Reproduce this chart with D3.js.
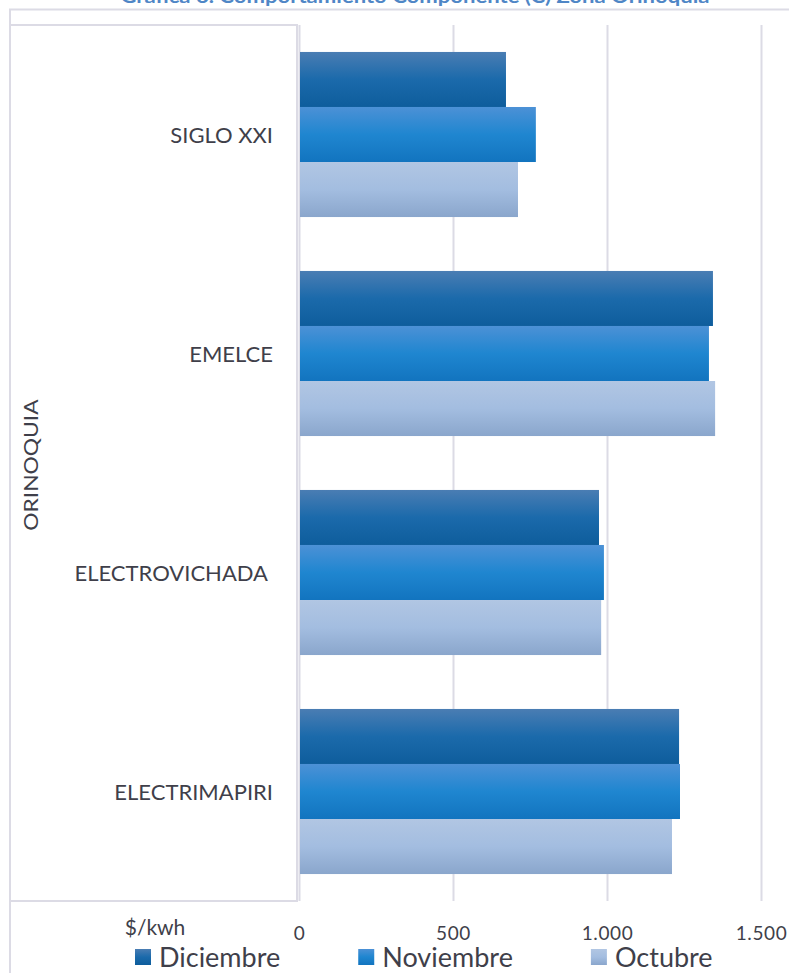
<!DOCTYPE html>
<html>
<head>
<meta charset="utf-8">
<script src="https://cdn.jsdelivr.net/npm/d3@7"></script>
<style>
  html, body { margin: 0; padding: 0; background: #ffffff; }
  svg { display: block; }
</style>
</head>
<body>
<svg id="chart" width="789" height="973"></svg>
<script>
// ---------- DATA ----------
const titleText = "Gráfica  6. Comportamiento Componente (C) Zona Orinoquia";
const groupLabel = "ORINOQUIA";
const unitLabel = "$/kwh";
const categories = ["SIGLO XXI", "EMELCE", "ELECTROVICHADA", "ELECTRIMAPIRI"];
const seriesNames = ["Diciembre", "Noviembre", "Octubre"];
const diciembre = [672, 1344, 974, 1234];
const noviembre = [769, 1331, 990, 1237];
const octubre   = [711, 1351, 981, 1211];
const xTicks = [0, 500, 1000, 1500];

// ---------- STYLE ----------
const seriesValues = [diciembre, noviembre, octubre];
const gradStops = [
  ["#4a7db3", "#1b6aab", "#0e5d9c"],
  ["#4c91d6", "#1f86d0", "#1274bf"],
  ["#b1c6e3", "#a3bde0", "#8aa6cc"]
];
const gridColor = "#dcdbe5";
const textColor = "#3f3f4a";
const font = "Lato, 'Open Sans', sans-serif";

const svg = d3.select("#chart");
const defs = svg.append("defs");
gradStops.forEach((stops, i) => {
  const g = defs.append("linearGradient")
    .attr("id", "grad" + i).attr("x1", 0).attr("y1", 0).attr("x2", 0).attr("y2", 1);
  g.append("stop").attr("offset", "0%").attr("stop-color", stops[0]);
  g.append("stop").attr("offset", "50%").attr("stop-color", stops[1]);
  g.append("stop").attr("offset", "100%").attr("stop-color", stops[2]);
});

const plot = { left: 299, right: 761, top: 25, bottom: 901 };

const x = d3.scaleLinear().domain([0, 1500]).range([plot.left, plot.right]);
const y0 = d3.scaleBand().domain(categories).range([plot.top, plot.bottom]).padding(0);
const y1 = d3.scaleBand().domain(seriesNames).range([0, y0.bandwidth()])
  .paddingInner(0).paddingOuter(0.49);

const locale = d3.formatLocale({ decimal: ",", thousands: ".", grouping: [3], currency: ["$", ""] });
const fmt = locale.format(",");

// Title (clipped at top, as in the reference)
svg.append("text")
  .attr("x", 415).attr("y", 3)
  .attr("text-anchor", "middle")
  .attr("font-family", font).attr("font-weight", "bold")
  .attr("font-size", 18).attr("fill", "#4f86c6")
  .attr("textLength", 589).attr("lengthAdjust", "spacingAndGlyphs")
  .text(titleText);

// Outer frame
svg.append("path")
  .attr("d", `M10,973 V9.5 H789`)
  .attr("fill", "none").attr("stroke", gridColor).attr("stroke-width", 2);

// Category box (multi-level axis)
svg.append("path")
  .attr("d", `M10,${plot.top} H${plot.left - 2} V${plot.bottom} H10`)
  .attr("fill", "none").attr("stroke", gridColor).attr("stroke-width", 2);

// Gridlines
const gridAxis = d3.axisBottom(x).tickValues(xTicks).tickSize(plot.bottom - plot.top).tickFormat("");
const gg = svg.append("g").attr("transform", `translate(0,${plot.top})`).call(gridAxis);
gg.select(".domain").remove();
gg.selectAll(".tick line").attr("stroke", gridColor).attr("stroke-width", 2);

// Bars
const groups = svg.append("g").selectAll("g")
  .data(categories).join("g")
  .attr("transform", d => `translate(0,${y0(d)})`);

groups.selectAll("rect")
  .data((c, ci) => seriesNames.map((s, si) => ({ s, si, v: seriesValues[si][ci] })))
  .join("rect")
  .attr("x", x(0) + 1)
  .attr("y", d => y1(d.s))
  .attr("width", d => x(d.v) - x(0) - 1)
  .attr("height", y1.bandwidth())
  .attr("fill", d => `url(#grad${d.si})`);

// X axis labels
const xAxis = d3.axisBottom(x).tickValues(xTicks).tickSize(0).tickPadding(0).tickFormat(fmt);
const xa = svg.append("g").attr("transform", `translate(0,940)`).call(xAxis);
xa.select(".domain").remove();
xa.selectAll("text")
  .attr("font-family", font).attr("font-size", 19).attr("fill", textColor)
  .attr("y", 0).attr("dy", 0)
  .attr("letter-spacing", 0.6);

// Unit label
svg.append("text")
  .attr("x", 155).attr("y", 935).attr("text-anchor", "middle")
  .attr("font-family", font).attr("font-size", 21).attr("fill", textColor)
  .text(unitLabel);

// Category labels
svg.append("g").selectAll("text")
  .data(categories).join("text")
  .attr("x", d => d === "ELECTROVICHADA" ? 268 : 273)
  .attr("y", d => y0(d) + y0.bandwidth() / 2 + 8.5)
  .attr("text-anchor", "end")
  .attr("font-family", font).attr("font-size", 22).attr("fill", textColor)
  .text(d => d);

// Group label (rotated, stretched along its length)
svg.append("text")
  .attr("transform", `translate(38,465) rotate(-90) scale(1.2,1)`)
  .attr("text-anchor", "middle")
  .attr("font-family", font).attr("font-size", 19).attr("fill", textColor)
  .text(groupLabel);

// Legend
const legend = svg.append("g");
let lx = 135;
seriesNames.forEach((s, i) => {
  const item = legend.append("g");
  item.append("rect")
    .attr("x", lx).attr("y", 949).attr("width", 16).attr("height", 16)
    .attr("fill", `url(#grad${i})`);
  const t = item.append("text")
    .attr("x", lx + 24).attr("y", 967)
    .attr("font-family", font).attr("font-size", 27).attr("fill", textColor)
    .text(s);
  const w = t.node().getComputedTextLength();
  lx = lx + 24 + w + 78;
});
</script>
</body>
</html>
